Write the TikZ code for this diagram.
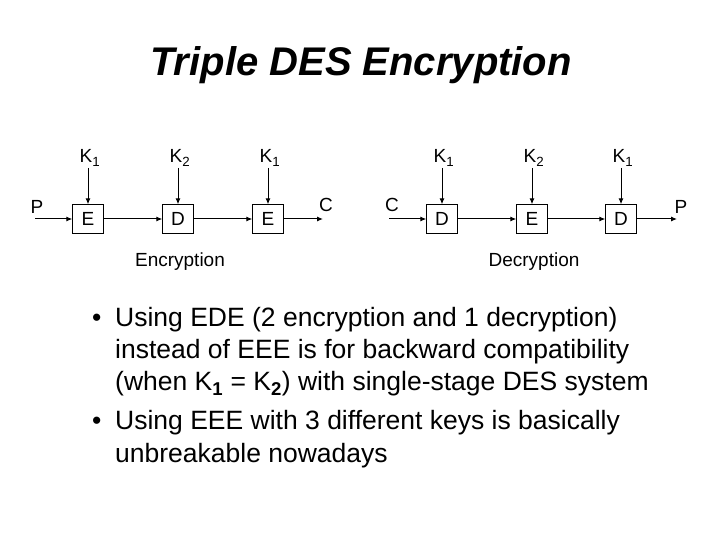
\documentclass[tikz,border=0pt]{standalone}
\usepackage{fontspec}
\setmainfont{Liberation Sans}
\usetikzlibrary{arrows.meta}
\begin{document}
\begin{tikzpicture}[x=1pt,y=-1pt,
 blk/.style={draw,minimum width=31pt,minimum height=29pt,inner sep=0pt,font=\fontsize{19}{19}\selectfont},
 lbl/.style={font=\fontsize{19}{19}\selectfont,inner sep=0pt},
 arr/.style={-{Latex[length=6pt,width=5pt]},line width=1pt},
 body/.style={font=\fontsize{26.5}{32}\selectfont,inner sep=0pt,anchor=west}]
\useasboundingbox[fill=white] (0,0) rectangle (720,540);
\node[font=\fontsize{40}{40}\selectfont\bfseries\itshape] (title) at (361,65) {Triple DES Encryption};
% encryption
\node[blk] (e1) at (88,219) {E};
\node[blk] (d1) at (178,219) {D};
\node[blk] (e2) at (268,219) {E};
\coordinate (pin) at (35,219); \coordinate (cout) at (323,219);
\node[lbl] (p1) at (37,207) {P};
\node[lbl] (c1) at (326,205) {C};
\node[lbl] (k11) at (90,158) {K\textsubscript{1}};
\node[lbl] (k21) at (180,158) {K\textsubscript{2}};
\node[lbl] (k31) at (270,158) {K\textsubscript{1}};
\foreach \k/\b in {e1,d1,e2} \draw[arr] (\b.north|-0,168) -- (\b.north);
\draw[arr] (pin) -- (e1); \draw[arr] (e1) -- (d1); \draw[arr] (d1) -- (e2); \draw[arr] (e2) -- (cout);
\node[lbl] (enc) at (180,262) {Encryption};
% decryption
\node[blk] (d2) at (442,219) {D};
\node[blk] (e3) at (532,219) {E};
\node[blk] (d3) at (621,219) {D};
\coordinate (cin) at (389,219); \coordinate (pout) at (677,219);
\node[lbl] (c2) at (392,205) {C};
\node[lbl] (p2) at (681,207) {P};
\node[lbl] (k12) at (444,158) {K\textsubscript{1}};
\node[lbl] (k22) at (534,158) {K\textsubscript{2}};
\node[lbl] (k32) at (623,158) {K\textsubscript{1}};
\foreach \b in {d2,e3,d3} \draw[arr] (\b.north|-0,168) -- (\b.north);
\draw[arr] (cin) -- (d2); \draw[arr] (d2) -- (e3); \draw[arr] (e3) -- (d3); \draw[arr] (d3) -- (pout);
\node[lbl] (dec) at (534,262) {Decryption};
% bullets
\node[body] (b1) at (92,320) {•};
\node[body] (t1) at (115,320) {Using EDE (2 encryption and 1 decryption)};
\node[body] (t2) at (115,352) {instead of EEE is for backward compatibility};
\node[body] (t3) at (115,384) {(when K\textsubscript{\bfseries 1} = K\textsubscript{\bfseries 2}) with single-stage DES system};
\node[body] (b2) at (92,423) {•};
\node[body] (t4) at (115,423) {Using EEE with 3 different keys is basically};
\node[body] (t5) at (115,456) {unbreakable nowadays};
\end{tikzpicture}
\end{document}
